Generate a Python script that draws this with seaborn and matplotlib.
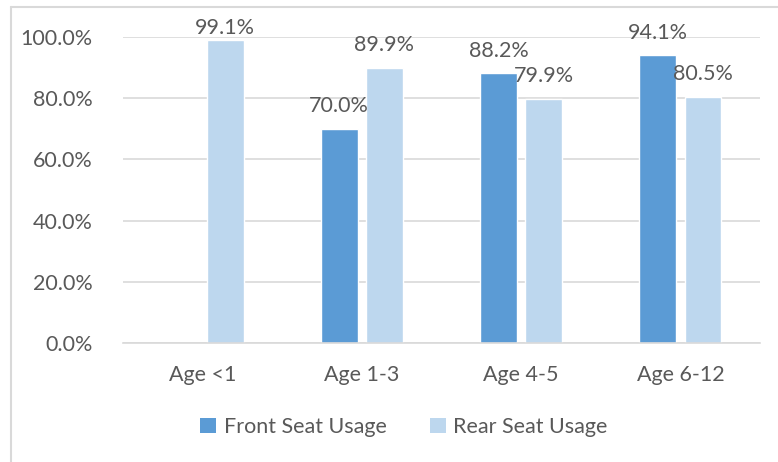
import matplotlib
matplotlib.use("Agg")
import matplotlib.pyplot as plt
import seaborn as sns
import pandas as pd
import numpy as np
from matplotlib.ticker import FuncFormatter
from matplotlib.lines import Line2D
from matplotlib.patches import Patch

categories = ["Age <1", "Age 1-3", "Age 4-5", "Age 6-12"]
front_seat = [np.nan, 70.0, 88.2, 94.1]
rear_seat = [99.1, 89.9, 79.9, 80.5]
series_names = ["Front Seat Usage", "Rear Seat Usage"]
colors = ["#5B9BD5", "#BDD7EE"]

df = pd.DataFrame({
    "Age": categories * 2,
    "Series": [series_names[0]] * 4 + [series_names[1]] * 4,
    "Value": front_seat + rear_seat,
})

sns.set_theme(style="white")
plt.rcParams["font.family"] = ["Lato", "DejaVu Sans"]
text_color = "#595959"
grid_color = "#D9D9D9"
fs = 15.5

fig = plt.figure(figsize=(7.78, 4.62), dpi=100)
ax = fig.add_axes([123 / 778, 1 - 343 / 462, (760 - 123) / 778, (343 - 37) / 462])

sns.barplot(data=df, x="Age", y="Value", hue="Series", order=categories,
            hue_order=series_names, palette=colors, width=0.568, gap=0.19,
            saturation=1, ax=ax, legend=False, err_kws={"linewidth": 0})

for cont in ax.containers:
    labels = [f"{v:.1f}%" if not np.isnan(v) else "" for v in cont.datavalues]
    anns = ax.bar_label(cont, labels=labels, padding=9, fontsize=fs, color=text_color)
    # keep labels inside the plot area near the top (as Excel does)
    for ann, v in zip(anns, cont.datavalues):
        if not np.isnan(v) and v > 95:
            ann.xyann = (0, 1)

ax.set_ylim(0, 100)
ax.set_yticks([0, 20, 40, 60, 80, 100])
ax.yaxis.set_major_formatter(FuncFormatter(lambda v, p: f"{v:.1f}%"))
ax.set_xlim(-0.5, 3.5)
ax.grid(axis="y", color=grid_color, linewidth=1.2)
ax.set_axisbelow(True)
for s in ["top", "right", "left"]:
    ax.spines[s].set_visible(False)
ax.spines["bottom"].set_color(grid_color)
ax.spines["bottom"].set_linewidth(1.2)
ax.set_xlabel("")
ax.set_ylabel("")
ax.tick_params(axis="both", length=0, labelsize=fs, colors=text_color)
ax.tick_params(axis="y", pad=22)
ax.tick_params(axis="x", pad=16)

handles = [Patch(facecolor=c, edgecolor="none") for c in colors]
leg = fig.legend(handles, series_names, loc="center", bbox_to_anchor=(404 / 778, 1 - 427 / 462),
                 ncol=2, frameon=False, fontsize=fs, handlelength=0.75, handleheight=0.75,
                 handletextpad=0.35, columnspacing=2.0)
for t in leg.get_texts():
    t.set_color(text_color)

# figure border
fig.add_artist(Line2D([11 / 778, 11 / 778], [0, 1 - 7 / 462], color=grid_color, linewidth=1.5,
                      transform=fig.transFigure))
fig.add_artist(Line2D([11 / 778, 1], [1 - 7 / 462, 1 - 7 / 462], color=grid_color, linewidth=1.5,
                      transform=fig.transFigure))

fig.savefig("out.png", dpi=100)
